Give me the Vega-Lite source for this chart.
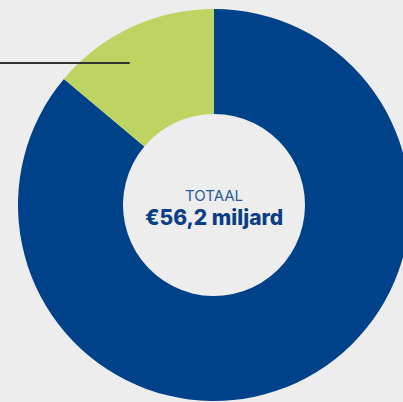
{
  "$schema": "https://vega.github.io/schema/vega-lite/v6.json",
  "width": 378,
  "height": 394,
  "autosize": "none",
  "padding": {"left": 25, "top": 8, "right": 0, "bottom": 0},
  "background": "#ededed",
  "config": {"view": {"stroke": null}},
  "layer": [
    {
      "data": {"values": [
        {"categorie": "Overig", "bedrag": 48.4},
        {"categorie": "Groen", "bedrag": 7.8}
      ]},
      "mark": {"type": "arc", "outerRadius": 196, "innerRadius": 91},
      "encoding": {
        "theta": {"field": "bedrag", "type": "quantitative", "stack": true},
        "color": {"field": "categorie", "type": "nominal", "scale": {"domain": ["Overig", "Groen"], "range": ["#00428a", "#bdd362"]}, "legend": null},
        "order": {"field": "bedrag", "sort": "descending"}
      }
    },
    {
      "data": {"values": [{"van": -1.1, "tot": -0.43, "hoogte": 0.725}]},
      "mark": {"type": "rule", "color": "#333333", "strokeWidth": 2},
      "encoding": {
        "x": {"field": "van", "type": "quantitative", "scale": {"domain": [-0.964, 0.964], "zero": false, "nice": false}, "axis": null},
        "x2": {"field": "tot"},
        "y": {"field": "hoogte", "type": "quantitative", "scale": {"domain": [-1.005, 1.005], "zero": false, "nice": false}, "axis": null}
      }
    },
    {
      "data": {"values": [{"label": "TOTAAL"}]},
      "mark": {"type": "text", "font": "Inter", "fontSize": 15, "fontWeight": 400, "color": "#2d5b9b", "dy": -9, "baseline": "middle", "align": "center"},
      "encoding": {"text": {"field": "label"}}
    },
    {
      "data": {"values": [{"label": "€56,2 miljard"}]},
      "mark": {"type": "text", "font": "Inter", "fontSize": 21, "fontWeight": 800, "color": "#0b3e84", "dy": 14, "baseline": "middle", "align": "center"},
      "encoding": {"text": {"field": "label"}}
    }
  ]
}
